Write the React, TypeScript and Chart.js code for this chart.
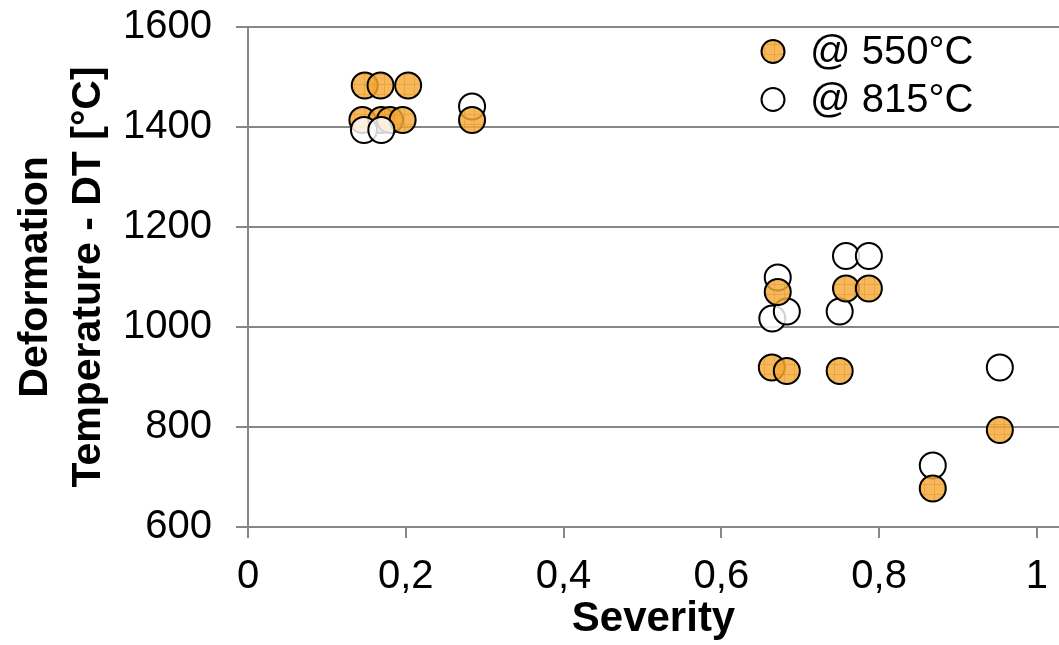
import React, { useEffect, useRef } from "react";
import { Chart, registerables } from "chart.js";

Chart.register(...registerables);

// ---- data ----
const seriesNames = ["@ 550°C", "@ 815°C"];
const xTickValues = [0, 0.2, 0.4, 0.6, 0.8, 1];
const yTickValues = [600, 800, 1000, 1200, 1400, 1600];

const severity550 = [0.148, 0.168, 0.203, 0.145, 0.169, 0.18, 0.196, 0.284, 0.664, 0.6715, 0.683, 0.75, 0.758, 0.787, 0.868, 0.953];
const dt550 = [1483, 1483, 1483, 1414, 1414, 1414, 1414, 1414, 919, 1070, 912, 912, 1077, 1077, 677, 794];

const severity815Low = [0.147, 0.169];
const dt815Low = [1394, 1394];

const severity815 = [0.284, 0.6715, 0.6646, 0.683, 0.75, 0.758, 0.787, 0.868, 0.953];
const dt815 = [1441, 1099, 1017, 1031, 1031, 1142, 1142, 723, 919];

const FONT = "'Liberation Sans', Arial, Helvetica, sans-serif";
const GRID = "#878787";

function makeOrangePattern(): CanvasPattern | string {
  const c = document.createElement("canvas");
  c.width = 10;
  c.height = 10;
  const g = c.getContext("2d");
  if (!g) return "rgba(242,166,52,0.85)";
  g.fillStyle = "rgba(243,168,56,0.82)";
  g.fillRect(0, 0, 10, 10);
  g.fillStyle = "rgba(236,150,30,0.55)";
  g.fillRect(0, 4, 10, 1);
  g.fillRect(4, 0, 1, 10);
  const p = g.createPattern(c, "repeat");
  return p || "rgba(242,166,52,0.85)";
}

const zip = (xs: number[], ys: number[]) => xs.map((x, i) => ({ x, y: ys[i] }));

export default function App() {
  const ref = useRef<HTMLCanvasElement | null>(null);

  useEffect(() => {
    document.body.style.margin = "0";
    const canvas = ref.current;
    if (!canvas) return;
    const orange = makeOrangePattern();
    const white = "rgba(255,255,255,0.82)";

    const legendPlugin = {
      id: "insideLegend",
      afterDraw(chart: any) {
        const { ctx, chartArea } = chart;
        const mx = chartArea.right - 286;
        const tx = chartArea.right - 249;
        const rows = [chartArea.top + 24.5, chartArea.top + 72.5];
        const fills = [orange, "#ffffff"];
        ctx.save();
        rows.forEach((y: number, i: number) => {
          ctx.beginPath();
          ctx.arc(mx, y, 11.5, 0, Math.PI * 2);
          ctx.fillStyle = fills[i] as any;
          ctx.fill();
          ctx.lineWidth = 2;
          ctx.strokeStyle = "#000";
          ctx.stroke();
          ctx.fillStyle = "#000";
          ctx.font = `40px ${FONT}`;
          ctx.textAlign = "left";
          ctx.textBaseline = "middle";
          ctx.fillText(seriesNames[i], tx, y + 1);
        });
        ctx.restore();
      },
    };

    const pointStyle = {
      pointRadius: 13,
      pointHoverRadius: 13,
      borderWidth: 2,
      borderColor: "#000",
      showLine: false,
    };

    const chart = new Chart(canvas, {
      type: "scatter",
      data: {
        datasets: [
          { label: seriesNames[1], data: zip(severity815Low, dt815Low), backgroundColor: white, pointBackgroundColor: white, ...pointStyle },
          { label: seriesNames[0], data: zip(severity550, dt550), backgroundColor: orange as any, pointBackgroundColor: orange as any, ...pointStyle },
          { label: seriesNames[1], data: zip(severity815, dt815), backgroundColor: white, pointBackgroundColor: white, ...pointStyle },
        ],
      },
      options: {
        animation: false,
        responsive: false,
        layout: { autoPadding: false, padding: { top: 27, right: 0, bottom: 0, left: 0 } },
        plugins: {
          legend: { display: false },
          tooltip: { enabled: false },
        },
        scales: {
          x: {
            type: "linear",
            min: 0,
            max: 1.028,
            afterBuildTicks: (scale: any) => {
              scale.ticks = xTickValues.map((v) => ({ value: v }));
            },
            afterFit: (scale: any) => {
              scale.height = 118;
              scale.paddingLeft = 0;
              scale.paddingRight = 0;
            },
            grid: {
              display: true,
              drawOnChartArea: false,
              drawTicks: true,
              tickLength: 11,
              color: GRID,
              lineWidth: 2,
            },
            border: { display: true, color: GRID, width: 2 },
            ticks: {
              color: "#000",
              font: { family: FONT, size: 40 },
              padding: 15,
              maxRotation: 0,
              autoSkip: false,
              callback: (v: any) => String(Math.round(Number(v) * 10) / 10).replace(".", ","),
            },
            title: {
              display: true,
              text: "Severity",
              color: "#000",
              font: { family: FONT, size: 42, weight: "bold" },
              padding: { top: 0, bottom: 0 },
            },
          },
          y: {
            type: "linear",
            min: 600,
            max: 1600,
            afterBuildTicks: (scale: any) => {
              scale.ticks = yTickValues.map((v) => ({ value: v }));
            },
            afterFit: (scale: any) => {
              scale.width = 248;
              scale.paddingTop = 0;
              scale.paddingBottom = 0;
            },
            grid: {
              display: true,
              drawOnChartArea: true,
              drawTicks: true,
              tickLength: 12,
              color: GRID,
              lineWidth: 2,
            },
            border: { display: true, color: GRID, width: 2 },
            ticks: {
              color: "#000",
              font: { family: FONT, size: 40 },
              padding: 24,
              autoSkip: false,
              callback: (v: any) => String(v),
            },
            title: {
              display: true,
              text: ["Deformation", "Temperature - DT [°C]"],
              color: "#000",
              font: { family: FONT, size: 41, weight: "bold", lineHeight: 1.29 },
              padding: { top: 9, bottom: 0 },
            },
          },
        },
      },
      plugins: [legendPlugin],
    } as any);

    return () => chart.destroy();
  }, []);

  return (
    <div style={{ width: 1059, height: 645 }}>
      <canvas ref={ref} width={1059} height={645} style={{ display: "block" }} />
    </div>
  );
}
